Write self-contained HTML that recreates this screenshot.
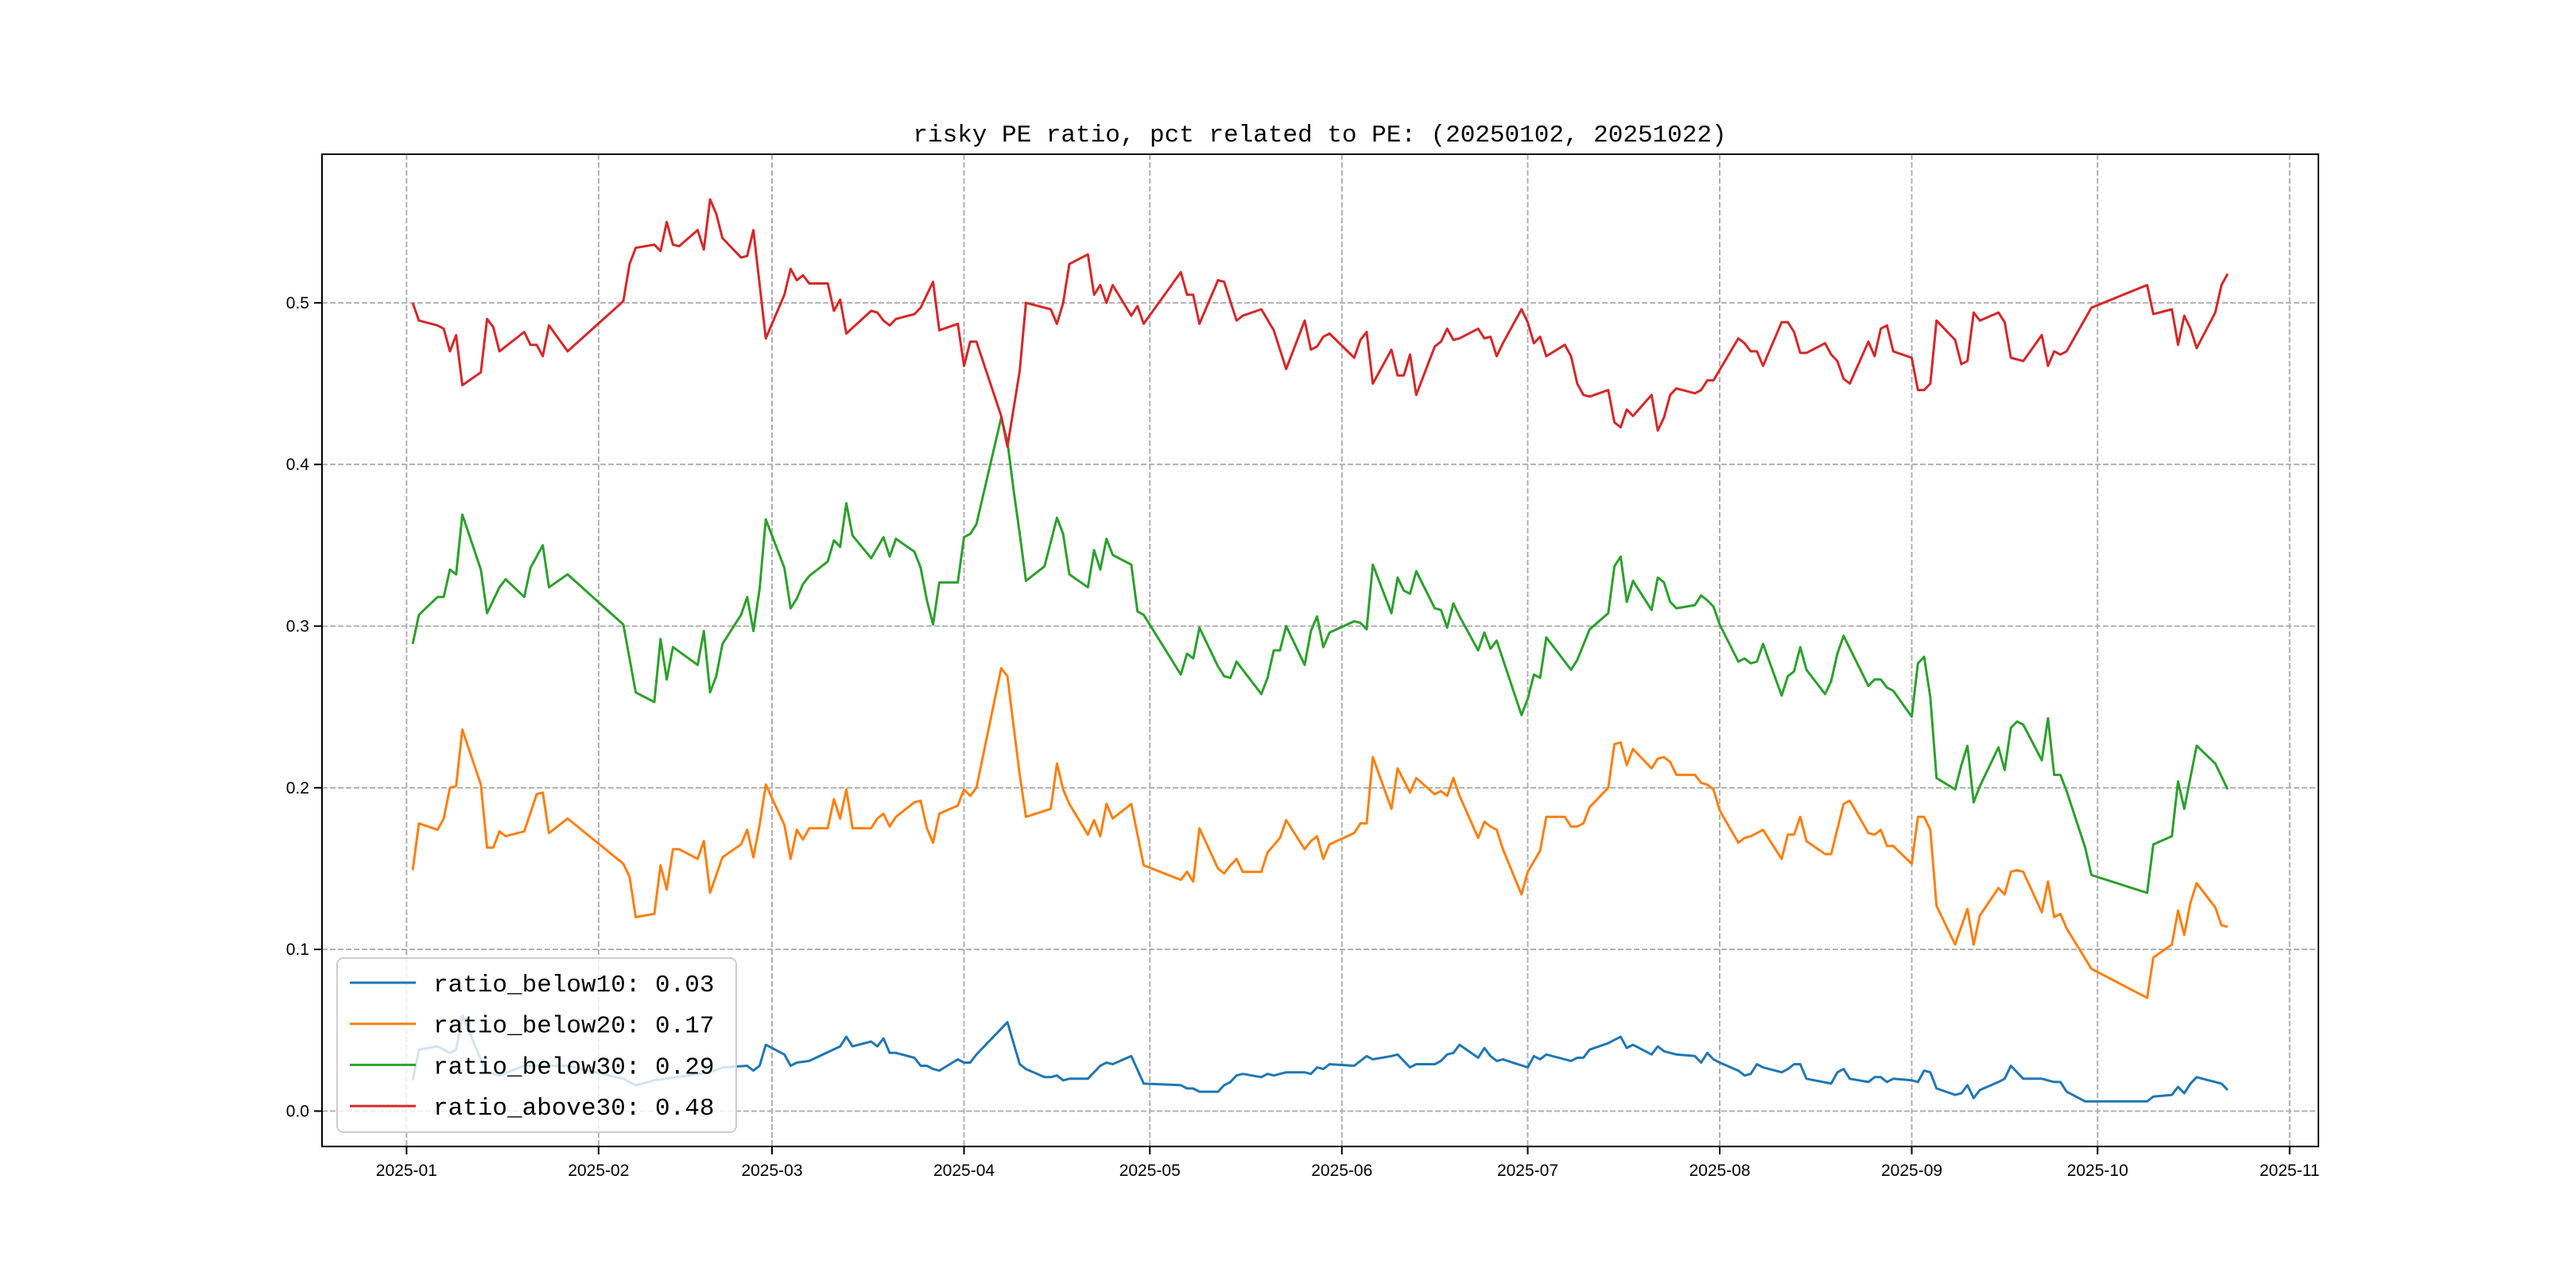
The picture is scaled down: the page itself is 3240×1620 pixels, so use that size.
<!DOCTYPE html>
<html><head><meta charset="utf-8"><title>risky PE ratio</title>
<style>html,body{margin:0;padding:0;background:#fff;}svg{display:block;}</style></head>
<body>
<svg id="chart" xmlns="http://www.w3.org/2000/svg" width="3240" height="1620" viewBox="0 0 3240 1620">
<rect x="0" y="0" width="3240" height="1620" fill="#fff"/>
<text x="1660" y="178" text-anchor="middle" font-family="'Liberation Mono','Noto Sans CJK SC',monospace" font-size="31" fill="#000">risky PE ratio, pct related to PE: (20250102, 20251022)</text>
<g id="grid"></g>
<g id="series"></g>
<rect x="405" y="194" width="2511" height="1248" fill="none" stroke="#000" stroke-width="2"/>
<g id="axes"></g>
<g id="legend"></g>
</svg>
<script>
// x = day offset from 2025-01-01
const xTickLabels = ["2025-01","2025-02","2025-03","2025-04","2025-05","2025-06","2025-07","2025-08","2025-09","2025-10","2025-11"];
const xTickDays = [0,31,59,90,120,151,181,212,243,273,304];
const yTicks = [0.0,0.1,0.2,0.3,0.4,0.5];
const yTickLabels = ["0.0","0.1","0.2","0.3","0.4","0.5"];
const seriesNames = ["ratio_below10","ratio_below20","ratio_below30","ratio_above30"];
const seriesLatest = ["0.03","0.17","0.29","0.48"];
const seriesColors = ["#1f77b4","#ff7f0e","#2ca02c","#d62728"];

const redDays = [1,2,5,6,7,8,9,12,13,14,15,16,19,20,21,22,23,26,35,36,37,40,41,42,43,44,47,48,49,50,51,54,55,56,58,61,62,63,64,65,68,69,70,71,75,76,77,78,79,82,83,85,86,89,90,91,92,96,97,99,100,104,105,106,107,110,111,112,113,114,117,118,119,125,126,127,128,131,132,134,135,138,140,142,145,146,147,148,149,153,154,155,156,159,160,161,162,163,166,167,168,169,170,173,174,175,176,177,180,181,182,183,184,187,188,189,190,191,194,195,196,197,198,201,202,203,204,205,208,209,210,211,215,216,217,218,219,222,223,224,225,226,229,230,231,232,233,236,237,238,239,240,243,244,245,246,247,250,251,252,253,254,257,258,259,261,264,265,266,267,268,272,281,282,285,286,287,288,289,292,293,294];
const redVals = [.500,.489,.486,.484,.470,.480,.449,.457,.490,.485,.470,.473,.482,.474,.474,.467,.486,.470,.501,.524,.534,.536,.532,.550,.536,.535,.545,.533,.564,.555,.540,.528,.529,.545,.478,.505,.521,.514,.517,.512,.512,.495,.502,.481,.495,.494,.489,.486,.490,.493,.497,.513,.483,.487,.461,.476,.476,.430,.411,.458,.500,.496,.487,.500,.524,.530,.505,.511,.500,.511,.492,.498,.487,.519,.505,.505,.487,.514,.513,.489,.492,.496,.483,.459,.489,.471,.473,.479,.481,.466,.477,.482,.450,.471,.455,.455,.468,.443,.473,.476,.484,.477,.478,.484,.478,.479,.467,.475,.496,.488,.475,.479,.467,.474,.467,.450,.443,.442,.446,.426,.423,.434,.430,.443,.421,.429,.443,.447,.444,.446,.452,.452,.478,.475,.470,.470,.461,.488,.488,.482,.469,.469,.475,.468,.464,.453,.450,.476,.467,.484,.486,.470,.466,.446,.446,.450,.489,.477,.462,.464,.494,.489,.494,.488,.466,.464,.480,.461,.470,.468,.470,.497,.511,.493,.496,.474,.492,.484,.472,.494,.511,.518];

const greenDays = [1,2,5,6,7,8,9,12,13,15,16,19,20,22,23,26,35,37,40,41,42,43,47,48,49,50,51,54,55,56,57,58,61,62,63,64,65,68,69,70,71,72,75,77,78,79,82,83,84,85,86,89,90,91,92,96,97,98,99,100,103,105,106,107,110,111,112,113,114,117,118,119,125,126,127,128,131,132,133,134,138,139,140,141,142,145,146,147,148,149,153,154,155,156,159,160,161,162,163,166,167,168,169,170,173,174,175,176,180,181,182,183,184,188,189,191,194,195,196,197,198,201,202,203,204,205,208,209,210,211,212,215,216,217,218,219,222,223,224,225,226,229,230,231,232,236,237,238,239,240,243,244,245,246,247,250,251,252,253,254,257,258,259,260,261,264,265,266,267,268,271,272,281,282,285,286,287,289,292,293,294];
const greenVals = [.289,.307,.318,.318,.335,.332,.369,.335,.308,.324,.329,.318,.336,.350,.324,.332,.301,.259,.253,.292,.267,.287,.276,.297,.259,.269,.289,.307,.318,.297,.323,.366,.336,.311,.317,.326,.331,.340,.353,.349,.376,.356,.342,.355,.343,.354,.346,.336,.316,.301,.327,.327,.355,.357,.363,.429,.414,.384,.357,.328,.337,.367,.357,.332,.324,.347,.335,.354,.344,.338,.309,.307,.270,.283,.280,.299,.275,.269,.268,.278,.258,.268,.285,.285,.300,.276,.297,.306,.287,.296,.303,.302,.298,.338,.308,.330,.322,.320,.334,.311,.310,.299,.314,.306,.285,.296,.286,.291,.245,.255,.270,.268,.293,.273,.279,.298,.308,.337,.343,.315,.328,.310,.330,.327,.315,.311,.313,.319,.316,.312,.301,.278,.280,.277,.278,.289,.257,.269,.272,.287,.273,.258,.266,.283,.294,.263,.267,.267,.262,.260,.244,.277,.281,.256,.206,.199,.214,.226,.191,.201,.225,.211,.237,.241,.239,.217,.243,.208,.208,.198,.163,.146,.135,.165,.170,.204,.187,.226,.215,.207,.199];

const orangeDays = [1,2,5,6,7,8,9,12,13,14,15,16,19,21,22,23,26,35,36,37,40,41,42,43,44,47,48,49,51,54,55,56,57,58,61,62,63,64,65,68,69,70,71,72,75,76,77,78,79,82,83,84,85,86,89,90,91,92,96,97,98,99,100,104,105,106,107,110,111,112,113,114,117,119,125,126,127,128,131,132,133,134,135,138,139,141,142,145,146,147,148,149,153,154,155,156,159,160,162,163,166,167,168,169,170,173,174,175,176,177,180,181,183,184,187,188,189,190,191,194,195,196,197,198,201,202,203,204,205,208,209,210,211,212,215,216,217,218,219,222,223,224,225,226,229,230,232,233,236,237,238,239,240,243,244,245,246,247,250,252,253,254,257,258,259,260,261,264,265,266,267,268,272,281,282,285,286,287,288,289,292,293,294];
const orangeVals = [.149,.178,.174,.181,.200,.201,.236,.202,.163,.163,.173,.170,.173,.196,.197,.172,.181,.153,.145,.120,.122,.152,.137,.162,.162,.156,.167,.135,.157,.165,.174,.157,.177,.202,.177,.156,.174,.168,.175,.175,.193,.181,.199,.175,.175,.181,.184,.176,.182,.191,.192,.175,.166,.184,.189,.199,.195,.200,.274,.269,.238,.208,.182,.187,.215,.199,.190,.171,.180,.170,.190,.181,.190,.152,.143,.148,.142,.175,.150,.147,.152,.156,.148,.148,.160,.169,.180,.162,.167,.170,.156,.165,.172,.178,.178,.219,.187,.212,.197,.206,.196,.198,.195,.206,.195,.169,.179,.176,.174,.162,.134,.148,.161,.182,.182,.176,.176,.178,.188,.200,.227,.228,.214,.224,.212,.218,.219,.216,.208,.208,.203,.202,.199,.186,.166,.169,.170,.172,.174,.156,.171,.171,.182,.167,.159,.159,.190,.192,.172,.171,.174,.164,.164,.153,.182,.182,.174,.127,.103,.125,.103,.121,.138,.134,.148,.149,.148,.123,.142,.120,.122,.113,.088,.070,.095,.103,.124,.109,.129,.141,.126,.115,.114];

const blueDays = [1,2,5,7,8,9,12,13,15,19,26,35,37,40,49,51,55,56,57,58,61,62,63,65,70,71,72,75,76,77,78,79,82,83,84,85,86,89,90,91,92,96,97,99,100,103,104,105,106,107,110,112,113,114,117,119,125,126,127,128,131,132,133,134,135,138,139,140,142,145,146,147,148,149,153,155,156,159,160,162,163,166,167,168,169,170,173,174,175,176,177,181,182,183,184,188,189,190,191,194,196,197,198,201,202,203,205,208,209,210,211,212,215,216,217,218,219,222,223,224,225,226,230,231,232,233,236,237,238,239,240,243,244,245,246,247,250,251,252,253,254,257,258,259,260,261,264,266,267,268,271,281,282,285,286,287,288,289,292,293,294];
const blueVals = [.019,.038,.040,.036,.038,.059,.032,.024,.022,.028,.028,.020,.016,.019,.024,.027,.028,.025,.028,.041,.035,.028,.030,.031,.040,.046,.040,.043,.040,.045,.036,.036,.033,.028,.028,.026,.025,.032,.030,.030,.035,.051,.055,.029,.026,.021,.021,.022,.019,.020,.020,.028,.030,.029,.034,.017,.016,.014,.014,.012,.012,.016,.018,.022,.023,.021,.023,.022,.024,.024,.023,.027,.026,.029,.028,.034,.032,.034,.035,.027,.029,.029,.031,.035,.036,.041,.033,.039,.034,.031,.032,.027,.034,.032,.035,.031,.033,.033,.038,.042,.046,.039,.041,.035,.040,.037,.035,.034,.030,.036,.032,.030,.025,.022,.023,.029,.027,.024,.026,.029,.029,.020,.017,.024,.026,.020,.018,.021,.021,.018,.020,.019,.018,.025,.024,.014,.010,.011,.016,.008,.013,.018,.020,.028,.024,.020,.020,.018,.018,.012,.006,.006,.009,.010,.015,.011,.017,.021,.018,.017,.013];

const NS = "http://www.w3.org/2000/svg";
const L = 405, R = 2916, T = 194, B = 1442;
const xMin = 1 - 14.65, xMax = 294 + 14.65;
const yMin = -0.0219, yMax = 0.5919;
function xs(d){ return L + (d - xMin) / (xMax - xMin) * (R - L); }
function ys(v){ return B - (v - yMin) / (yMax - yMin) * (B - T); }
function mk(tag, attrs, parent){ const e = document.createElementNS(NS, tag); for (const k in attrs) e.setAttribute(k, attrs[k]); parent.appendChild(e); return e; }

const grid = document.getElementById('grid');
const axes = document.getElementById('axes');
const FONT = "'Liberation Sans','Noto Sans CJK SC',sans-serif";
xTickDays.forEach((d, i) => {
  const x = xs(d);
  const g = mk('line', {x1:x, x2:x, y1:T, y2:B, stroke:'#b0b0b0', 'stroke-width':2, 'stroke-dasharray':'7,3'}, grid);
  
  
  const t = mk('line', {x1:x, x2:x, y1:B, y2:B+10, stroke:'#000', 'stroke-width':2}, axes);
  
  
  const lb = mk('text', {x:x, y:B+37, 'text-anchor':'middle', 'font-family':FONT, 'font-size':21, fill:'#000'}, axes);
  lb.textContent = xTickLabels[i];
  
  
});
yTicks.forEach((v, i) => {
  const y = ys(v);
  const g = mk('line', {x1:L, x2:R, y1:y, y2:y, stroke:'#b0b0b0', 'stroke-width':2, 'stroke-dasharray':'7,3'}, grid);
  
  
  const t = mk('line', {x1:L-10, x2:L, y1:y, y2:y, stroke:'#000', 'stroke-width':2}, axes);
  
  
  const lb = mk('text', {x:L-16, y:y+7, 'text-anchor':'end', 'font-family':FONT, 'font-size':21, fill:'#000'}, axes);
  lb.textContent = yTickLabels[i];
  
  
});

const seriesG = document.getElementById('series');
const allDays = [blueDays, orangeDays, greenDays, redDays];
const allVals = [blueVals, orangeVals, greenVals, redVals];
allDays.forEach((days, s) => {
  const vals = allVals[s];
  const pts = days.map((d, i) => xs(d).toFixed(1) + ',' + ys(vals[i]).toFixed(1)).join(' ');
  const p = mk('polyline', {points:pts, fill:'none', stroke:seriesColors[s], 'stroke-width':3, 'stroke-linejoin':'round'}, seriesG);
  
  
});

const legend = document.getElementById('legend');
const box = mk('rect', {x:424, y:1205, width:502, height:219, rx:8, fill:'#fff', 'fill-opacity':0.8, stroke:'#cccccc', 'stroke-width':2}, legend);


seriesNames.forEach((n, i) => {
  const cy = 1236 + i * 51.7;
  const ln = mk('line', {x1:440, x2:523, y1:cy, y2:cy, stroke:seriesColors[i], 'stroke-width':3}, legend);
  
  
  const tx = mk('text', {x:545, y:cy+11, 'font-family':"'Liberation Mono','Noto Sans CJK SC',monospace", 'font-size':31, fill:'#000'}, legend);
  tx.textContent = n + ': ' + seriesLatest[i];
  
  
});
</script>
</body></html>
